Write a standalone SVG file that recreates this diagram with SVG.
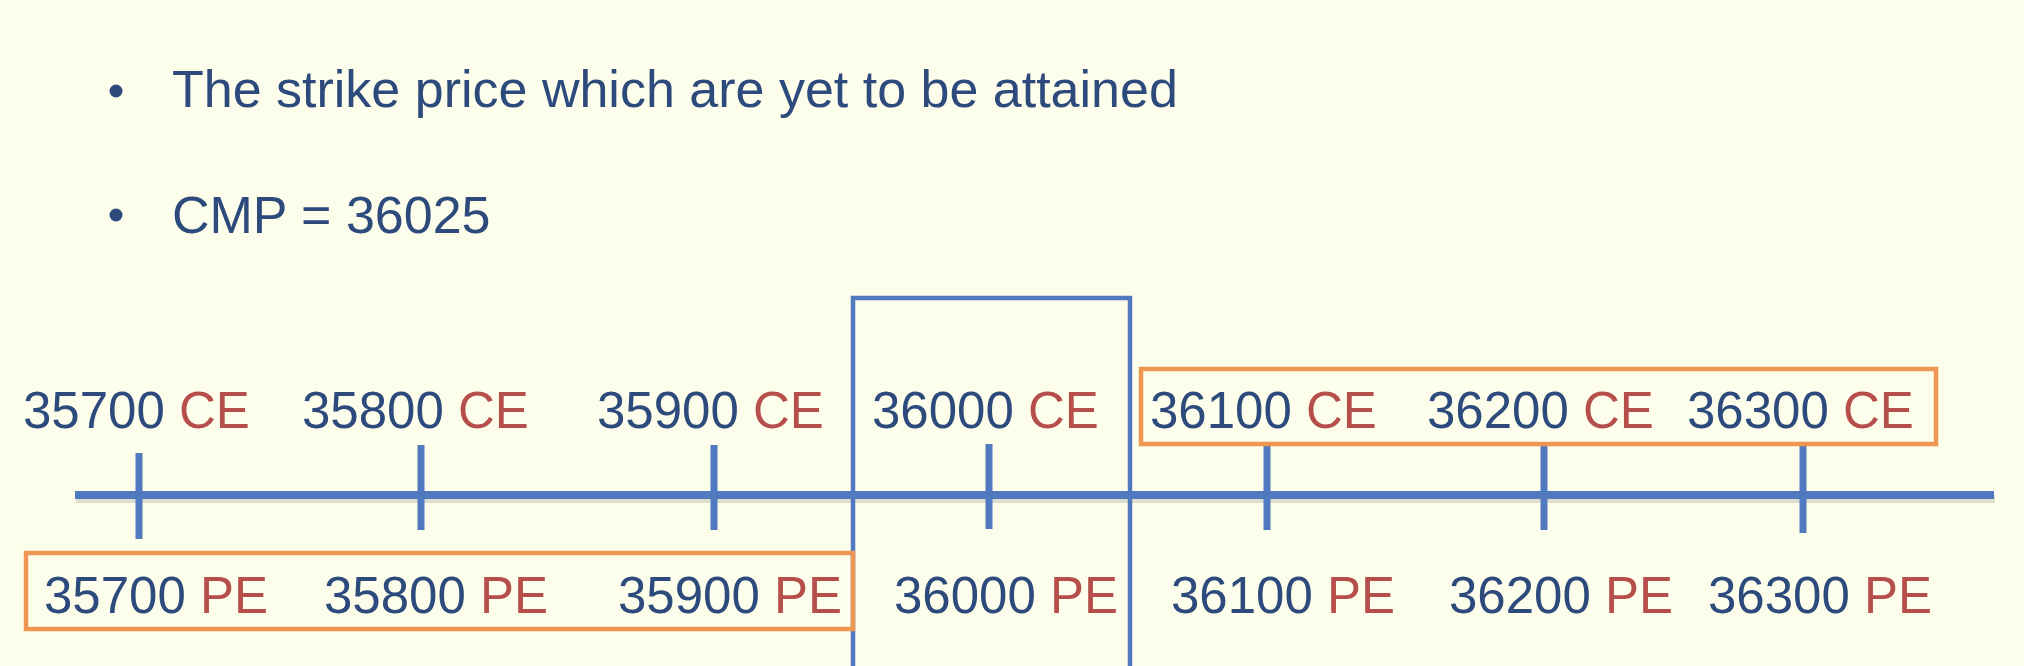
<svg xmlns="http://www.w3.org/2000/svg" width="2024" height="666" viewBox="0 0 2024 666">
<style>
text{font-family:"Liberation Sans",Arial,sans-serif;font-size:51px;fill:#2D4A7C}
.big{font-size:52px}
.r{fill:#B64F4B}
.tick{stroke:#5079BF;stroke-width:7}
.ob{fill:none;stroke:#EE9752;stroke-width:4.5}
</style>
<rect width="2024" height="666" fill="#FDFDEB"/>
<g id="bullets">
<circle cx="116" cy="91" r="6.5" fill="#2D4A7C"/>
<text class="big" x="172" y="107">The strike price which are yet to be attained</text>
<circle cx="116" cy="215" r="6.5" fill="#2D4A7C"/>
<text class="big" x="172" y="233">CMP = 36025</text>
</g>
<g id="connectors">
<line x1="76" y1="499" x2="1995" y2="499" stroke="#000" stroke-opacity="0.12" stroke-width="8"/>
<line x1="75" y1="495" x2="1994" y2="495" stroke="#5079BF" stroke-width="8"/>
<line class="tick" x1="139" y1="453" x2="139" y2="539"/>
<line class="tick" x1="421" y1="445" x2="421" y2="530"/>
<line class="tick" x1="714" y1="445" x2="714" y2="530"/>
<line class="tick" x1="989" y1="444" x2="989" y2="529"/>
<line class="tick" x1="1267" y1="445" x2="1267" y2="530"/>
<line class="tick" x1="1544" y1="445" x2="1544" y2="530"/>
<line class="tick" x1="1803" y1="445" x2="1803" y2="533"/>
</g>
<g id="atm-box"><rect x="853" y="298" width="277" height="400" fill="none" stroke="#5079BF" stroke-width="4.5"/></g>
<g id="otm-ce-box"><rect class="ob" x="1141" y="369" width="795" height="75"/></g>
<g id="otm-pe-box"><rect class="ob" x="26" y="553" width="827" height="76"/></g>
<g id="ce-35700"><text x="23" y="428">35700 <tspan class="r">CE</tspan></text></g>
<g id="ce-35800"><text x="302" y="428">35800 <tspan class="r">CE</tspan></text></g>
<g id="ce-35900"><text x="597" y="428">35900 <tspan class="r">CE</tspan></text></g>
<g id="ce-36000"><text x="872" y="428">36000 <tspan class="r">CE</tspan></text></g>
<g id="ce-36100"><text x="1150" y="428">36100 <tspan class="r">CE</tspan></text></g>
<g id="ce-36200"><text x="1427" y="428">36200 <tspan class="r">CE</tspan></text></g>
<g id="ce-36300"><text x="1687" y="428">36300 <tspan class="r">CE</tspan></text></g>
<g id="pe-35700"><text x="44" y="613">35700 <tspan class="r">PE</tspan></text></g>
<g id="pe-35800"><text x="324" y="613">35800 <tspan class="r">PE</tspan></text></g>
<g id="pe-35900"><text x="618" y="613">35900 <tspan class="r">PE</tspan></text></g>
<g id="pe-36000"><text x="894" y="613">36000 <tspan class="r">PE</tspan></text></g>
<g id="pe-36100"><text x="1171" y="613">36100 <tspan class="r">PE</tspan></text></g>
<g id="pe-36200"><text x="1449" y="613">36200 <tspan class="r">PE</tspan></text></g>
<g id="pe-36300"><text x="1708" y="613">36300 <tspan class="r">PE</tspan></text></g>
</svg>
